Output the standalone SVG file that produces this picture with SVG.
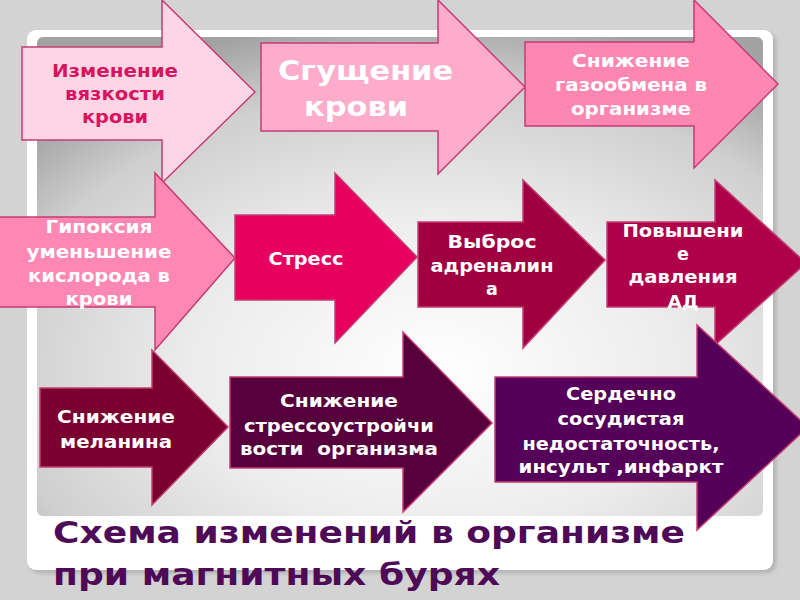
<svg xmlns="http://www.w3.org/2000/svg" width="800" height="600" viewBox="0 0 800 600">
<defs>
<radialGradient id="panelGrad" cx="0.55" cy="0.7" r="0.75">
<stop offset="0" stop-color="#ffffff"/>
<stop offset="0.45" stop-color="#ececec"/>
<stop offset="0.8" stop-color="#cfcfcf"/>
<stop offset="1" stop-color="#a2a2a2"/>
</radialGradient>
<filter id="shadow" x="-5%" y="-5%" width="110%" height="110%">
<feGaussianBlur stdDeviation="2"/>
</filter>
<style>
.arrow{stroke:#c43c72;stroke-width:1.5;stroke-linejoin:miter}
.t{font-family:"DejaVu Sans","Verdana",sans-serif;font-weight:bold;font-size:17.5px;fill:#ffffff;text-anchor:middle}
.t1{fill:#d6145f}
.big{font-size:27px;text-anchor:start}
.title{font-family:"DejaVu Sans","Verdana",sans-serif;font-weight:bold;font-size:30px;fill:#4e0a57}
</style>
</defs>
<rect x="0" y="0" width="800" height="600" fill="#d3d3d3"/>
<g id="frame">
<rect x="30" y="33" width="746" height="540" rx="9" fill="#9a9a9a" opacity="0.6" filter="url(#shadow)"/>
<rect x="27" y="30" width="746" height="540" rx="9" fill="#ffffff"/>
<rect x="37" y="37" width="726" height="479" rx="6" fill="url(#panelGrad)"/>
</g>
<g id="connectors"></g>
<g id="n1">
<polygon class="arrow" fill="#fdd5e4" points="22,47 162,47 162,0 255,92 162,183 162,140 22,140"/>
<text class="t t1" x="115" y="77" textLength="126" lengthAdjust="spacingAndGlyphs">Изменение</text>
<text class="t t1" x="115" y="100" textLength="100" lengthAdjust="spacingAndGlyphs">вязкости</text>
<text class="t t1" x="115" y="123" textLength="66" lengthAdjust="spacingAndGlyphs">крови</text>
</g>
<g id="n2">
<polygon class="arrow" fill="#fdaccb" points="261,43 438,43 438,0 525,87 438,174 438,131 261,131"/>
<text class="t big" x="278" y="80" textLength="175" lengthAdjust="spacingAndGlyphs">Сгущение</text>
<text class="t big" x="304" y="116" textLength="104" lengthAdjust="spacingAndGlyphs">крови</text>
</g>
<g id="n3">
<polygon class="arrow" fill="#fe87b2" points="525,42 694,42 694,0 778,84 694,168 694,126 525,126"/>
<text class="t" x="631" y="67" textLength="118" lengthAdjust="spacingAndGlyphs">Снижение</text>
<text class="t" x="631" y="91" textLength="152" lengthAdjust="spacingAndGlyphs">газообмена в</text>
<text class="t" x="631" y="115" textLength="120" lengthAdjust="spacingAndGlyphs">организме</text>
</g>
<g id="n4">
<polygon class="arrow" fill="#fe88b3" points="-2,217 155,217 155,173 235,258 155,350 155,307 -2,307"/>
<text class="t" x="99" y="233" textLength="107" lengthAdjust="spacingAndGlyphs">Гипоксия</text>
<text class="t" x="99" y="258" textLength="145" lengthAdjust="spacingAndGlyphs">уменьшение</text>
<text class="t" x="99" y="282" textLength="142" lengthAdjust="spacingAndGlyphs">кислорода в</text>
<text class="t" x="99" y="305" textLength="67" lengthAdjust="spacingAndGlyphs">крови</text>
</g>
<g id="n5">
<polygon class="arrow" fill="#e8005f" points="235,215 335,215 335,173 417,257 335,343 335,300 235,300"/>
<text class="t" x="306" y="265" textLength="75" lengthAdjust="spacingAndGlyphs">Стресс</text>
</g>
<g id="n6">
<polygon class="arrow" fill="#a0003f" points="418,222 523,222 523,180 605,260 523,348 523,307 418,307"/>
<text class="t" x="492" y="248" textLength="89" lengthAdjust="spacingAndGlyphs">Выброс</text>
<text class="t" x="492" y="272" textLength="123" lengthAdjust="spacingAndGlyphs">адреналин</text>
<text class="t" x="492" y="295">а</text>
</g>
<g id="n7">
<polygon class="arrow" fill="#af004a" points="607,222 715,222 715,180 806,263 715,345 715,307 607,307"/>
<text class="t" x="683" y="237" textLength="121" lengthAdjust="spacingAndGlyphs">Повышени</text>
<text class="t" x="683" y="260">е</text>
<text class="t" x="683" y="283" textLength="109" lengthAdjust="spacingAndGlyphs">давления</text>
<text class="t" x="683" y="308" textLength="31" lengthAdjust="spacingAndGlyphs">АД</text>
</g>
<g id="n8">
<polygon class="arrow" fill="#79002f" points="40,388 152,388 152,350 228,427 152,505 152,467 40,467"/>
<text class="t" x="116" y="423" textLength="118" lengthAdjust="spacingAndGlyphs">Снижение</text>
<text class="t" x="116" y="448" textLength="112" lengthAdjust="spacingAndGlyphs">меланина</text>
</g>
<g id="n9">
<polygon class="arrow" fill="#56003c" points="230,377 403,377 403,332 492,423 403,512 403,468 230,468"/>
<text class="t" x="339" y="407" textLength="118" lengthAdjust="spacingAndGlyphs">Снижение</text>
<text class="t" x="339" y="432" textLength="190" lengthAdjust="spacingAndGlyphs">стрессоустройчи</text>
<text class="t" x="339" y="455" textLength="198" lengthAdjust="spacingAndGlyphs" xml:space="preserve">вости  организма</text>
</g>
<g id="n10">
<polygon class="arrow" fill="#550059" points="495,377 697,377 697,325 808,427 697,530 697,482 495,482"/>
<text class="t" x="621" y="400" textLength="110" lengthAdjust="spacingAndGlyphs">Сердечно</text>
<text class="t" x="621" y="425" textLength="127" lengthAdjust="spacingAndGlyphs">сосудистая</text>
<text class="t" x="621" y="450" textLength="197" lengthAdjust="spacingAndGlyphs">недостаточность,</text>
<text class="t" x="621" y="473" textLength="205" lengthAdjust="spacingAndGlyphs">инсульт ,инфаркт</text>
</g>
<g id="title">
<text class="title" x="53" y="543" textLength="632" lengthAdjust="spacingAndGlyphs">Схема изменений в организме</text>
<text class="title" x="53" y="585" textLength="447" lengthAdjust="spacingAndGlyphs">при магнитных бурях</text>
</g>
</svg>
